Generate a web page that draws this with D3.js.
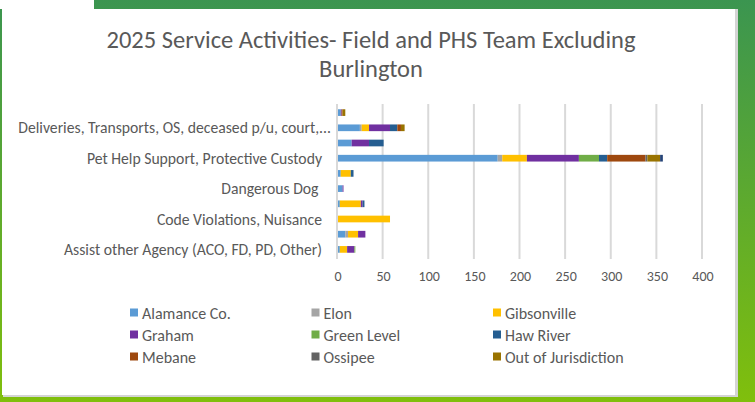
<!DOCTYPE html>
<html>
<head>
<meta charset="utf-8">
<title>2025 Service Activities</title>
<script src="https://d3js.org/d3.v7.min.js"></script>
<style>
    body { margin: 0; background: #fff; }
    svg text { font-family: Carlito, Lato, "Open Sans", sans-serif; fill: #595959; }
</style>
</head>
<body>
<div id="chart"></div>
<script>
    // categories, top to bottom (Excel only shows every other label)
    var categories = [
        "Wildlife, Livestock",
        "Deliveries, Transports, OS, deceased p/u, court,...",
        "Cruelty, Neglect Investigation",
        "Pet Help Support, Protective Custody",
        "Follow Up, Welfare Check",
        "Dangerous Dog ",
        "Complaint, Barking, Loose Animal",
        "Code Violations, Nuisance",
        "Bite, Quarantine",
        "Assist other Agency (ACO, FD, PD, Other)"
    ];
    var shownLabels = [1, 3, 5, 7, 9];

    var seriesNames = ["Alamance Co.", "Elon", "Gibsonville", "Graham", "Green Level",
        "Haw River", "Mebane", "Ossipee", "Out of Jurisdiction", "Other"];
    var seriesColors = ["#5b9bd5", "#a5a5a5", "#ffc000", "#7030a0", "#70ad47",
        "#255e91", "#9e480e", "#636363", "#997300", "#264478"];

    var alamance     = [3, 24, 15, 175, 3, 5, 2, 0, 8, 2];
    var elon         = [0, 2, 0, 5, 0, 0, 0, 0, 3, 0];
    var gibsonville  = [0, 8, 0, 27, 11, 0, 23, 57, 11, 8];
    var graham       = [1, 23, 19, 57, 0, 1, 2, 0, 8, 8];
    var greenLevel   = [0, 0, 0, 22, 0, 0, 0, 0, 0, 1];
    var hawRiver     = [0, 8, 16, 9, 3, 0, 2, 0, 0, 0];
    var mebane       = [1, 4, 0, 42, 0, 0, 0, 0, 0, 0];
    var ossipee      = [0, 0, 0, 2, 0, 0, 0, 0, 0, 0];
    var outOfJuris   = [3, 4, 0, 14, 0, 0, 0, 0, 0, 0];
    var other        = [0, 0, 0, 3, 0, 0, 0, 0, 0, 0];

    var xTicks = [0, 50, 100, 150, 200, 250, 300, 350, 400];

    var seriesValues = [alamance, elon, gibsonville, graham, greenLevel,
        hawRiver, mebane, ossipee, outOfJuris, other];

    var W = 755, H = 402;

    var svg = d3.select("#chart").append("svg")
        .attr("width", W)
        .attr("height", H);

    // green gradient background
    var defs = svg.append("defs");
    var grad = defs.append("linearGradient")
        .attr("id", "bg").attr("x1", "0%").attr("y1", "0%").attr("x2", "0%").attr("y2", "100%");
    grad.append("stop").attr("offset", "0%").attr("stop-color", "#3b9550");
    grad.append("stop").attr("offset", "100%").attr("stop-color", "#80bf0c");

    svg.append("rect").attr("width", W).attr("height", H).attr("fill", "url(#bg)");
    svg.append("rect").attr("x", 0).attr("y", 0).attr("width", 94).attr("height", 9).attr("fill", "#fff");

    // chart panel with a light shadow
    svg.append("rect").attr("x", 3).attr("y", 9).attr("width", 735).attr("height", 388).attr("fill", "#d4d4d4");
    svg.append("rect").attr("x", 2).attr("y", 9).attr("width", 733).attr("height", 386).attr("fill", "#fff");

    // title
    svg.append("text")
        .attr("x", 371).attr("y", 48)
        .attr("text-anchor", "middle")
        .style("font-size", "24.5px")
        .text("2025 Service Activities- Field and PHS Team Excluding");
    svg.append("text")
        .attr("x", 371).attr("y", 77)
        .attr("text-anchor", "middle")
        .style("font-size", "24.5px")
        .text("Burlington");

    var x = d3.scaleLinear().domain([0, 400]).range([338, 703]);
    var y = d3.scaleBand().domain(categories).range([105, 257]).paddingInner(0.56).paddingOuter(0.28);

    // gridlines
    svg.append("g").selectAll("line")
        .data(xTicks)
        .join("line")
        .attr("x1", function (d) { return x(d) - 1; })
        .attr("x2", function (d) { return x(d) - 1; })
        .attr("y1", 104).attr("y2", 259)
        .attr("stroke", "#d9d9d9")
        .attr("stroke-width", 2);

    // stacked bars
    var rows = categories.map(function (c, i) {
        var r = { cat: c };
        seriesNames.forEach(function (s, j) { r[s] = seriesValues[j][i]; });
        return r;
    });
    var stacked = d3.stack().keys(seriesNames)(rows);

    svg.append("g").selectAll("g")
        .data(stacked)
        .join("g")
        .attr("fill", function (d, i) { return seriesColors[i]; })
        .selectAll("rect")
        .data(function (d) { return d; })
        .join("rect")
        .attr("x", function (d) { return x(d[0]); })
        .attr("width", function (d) { return x(d[1]) - x(d[0]); })
        .attr("y", function (d) { return y(d.data.cat); })
        .attr("height", y.bandwidth());

    // x axis labels
    svg.append("g").selectAll("text")
        .data(xTicks)
        .join("text")
        .attr("x", function (d) { return x(d); })
        .attr("y", 281)
        .attr("text-anchor", "middle")
        .style("font-size", "14px")
        .text(function (d) { return d; });

    // category labels (the truncated one runs a little further right, like Excel)
    svg.append("g").selectAll("text")
        .data(shownLabels)
        .join("text")
        .attr("x", function (i) { return categories[i].endsWith("...") ? 331 : 322; })
        .attr("y", function (i) { return y(categories[i]) + y.bandwidth() / 2 + 5.5; })
        .attr("text-anchor", "end")
        .attr("xml:space", "preserve")
        .style("font-size", "15.7px")
        .text(function (i) { return categories[i]; });

    // legend (3 columns)
    var legend = svg.append("g").selectAll("g")
        .data(seriesNames.slice(0, 9))
        .join("g")
        .attr("transform", function (d, i) {
            return "translate(" + (130 + (i % 3) * 181.5) + "," + (313 + Math.floor(i / 3) * 22) + ")";
        });
    legend.append("rect")
        .attr("x", 0).attr("y", -4.5)
        .attr("width", 8).attr("height", 8)
        .attr("fill", function (d, i) { return seriesColors[i]; });
    legend.append("text")
        .attr("x", 12).attr("y", 5.5)
        .style("font-size", "16px")
        .text(function (d) { return d; });
</script>
</body>
</html>
